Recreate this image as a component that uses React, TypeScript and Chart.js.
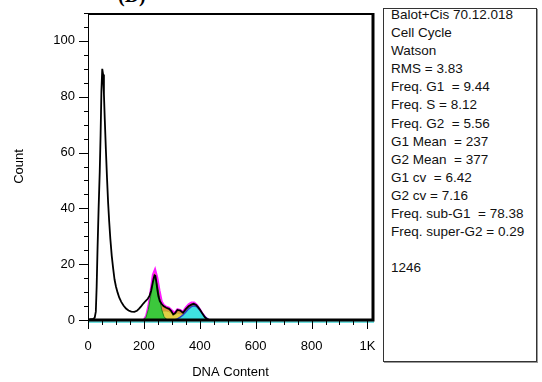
import React, { useEffect, useRef } from "react";
import { Chart, registerables } from "chart.js";

Chart.register(...registerables);

// Measured histogram (black line)
const histX = [0, 10, 18, 24, 28, 31, 34, 38, 42, 45, 48, 51, 54, 57, 60, 64, 68, 72, 76, 80, 85, 90, 95, 100, 106, 112, 119, 127, 136, 145, 155, 166, 175, 183, 190, 198, 206, 214, 220, 226, 231, 235, 238, 241, 244, 248, 252, 257, 263, 270, 280, 290, 298, 305, 312, 320, 330, 340, 350, 360, 370, 378, 386, 394, 402, 410, 418, 426, 434, 445, 1020];
const histY = [0, 0.3, 0.4, 0.8, 3, 12, 25, 40, 53, 66, 82, 90, 88, 81, 72, 61, 51, 42, 35, 29, 23, 18.5, 14.5, 12, 9.8, 8, 6.5, 5.2, 4.1, 3.4, 3.0, 2.9, 3.3, 4.1, 4.9, 5.9, 6.8, 7.6, 8.6, 10.5, 13, 15, 16, 15.8, 14, 11, 8.5, 6.8, 5.8, 5.0, 4.4, 4.0, 3.2, 2.0, 2.5, 3.6, 3.4, 2.6, 3.9, 4.9, 5.5, 5.8, 5.5, 4.6, 3.5, 2.2, 1.0, 0.3, 0.05, 0, 0];

// Watson model components
const fitX = [200, 208, 216, 224, 232, 240, 248, 256, 264, 272, 280, 290, 300, 310, 320, 330, 340, 350, 360, 370, 380, 390, 400, 410, 420, 430];
const g1Y = [0.2, 1.0, 3.8, 8.3, 13.5, 15.3, 12.6, 7.9, 3.6, 1.2, 0.3, 0, 0, 0, 0, 0, 0, 0, 0, 0, 0, 0, 0, 0, 0, 0];
const sY = [0, 0.3, 1.0, 1.8, 2.3, 2.6, 2.8, 3.0, 3.1, 3.2, 3.2, 3.0, 2.4, 1.9, 2.4, 2.3, 1.8, 1.7, 1.5, 1.2, 0.9, 0.5, 0.2, 0, 0, 0];
const g2Y = [0, 0, 0, 0, 0, 0, 0, 0, 0, 0, 0, 0, 0, 0, 0.4, 1.0, 1.8, 2.9, 4.0, 4.8, 5.1, 4.7, 3.6, 2.2, 1.0, 0.2];
const totalY = [0.2, 1.5, 5.0, 10.5, 16.2, 18.2, 15.2, 10.6, 6.6, 5.3, 4.8, 4.4, 3.5, 2.6, 3.9, 3.6, 3.0, 4.5, 5.6, 6.3, 6.3, 5.4, 3.9, 2.3, 1.0, 0.2];

const xTicks = [0, 200, 400, 600, 800, 1000];
const xTickLabels = ["0", "200", "400", "600", "800", "1K"];
const yTicks = [0, 20, 40, 60, 80, 100];
const xMinorStep = 50;
const yMinorStep = 5;

const statsLines = [
  "Balot+Cis 70.12.018",
  "Cell Cycle",
  "Watson",
  "RMS = 3.83",
  "Freq. G1  = 9.44",
  "Freq. S = 8.12",
  "Freq. G2  = 5.56",
  "G1 Mean  = 237",
  "G2 Mean  = 377",
  "G1 cv  = 6.42",
  "G2 cv = 7.16",
  "Freq. sub-G1  = 78.38",
  "Freq. super-G2 = 0.29",
  "",
  "1246",
];

const pts = (xs: number[], ys: number[]) => xs.map((x, i) => ({ x, y: ys[i] }));

const framePlugin = {
  id: "frameTicks",
  afterDraw(chart: any) {
    const { ctx, chartArea: a, scales } = chart;
    const xs = scales.x;
    const ys = scales.y;
    ctx.save();
    // cyan baseline under axis
    ctx.strokeStyle = "#3fd6d6";
    ctx.lineWidth = 1.5;
    ctx.beginPath();
    ctx.moveTo(a.left, a.bottom + 2);
    ctx.lineTo(a.right + 1, a.bottom + 2);
    ctx.stroke();
    ctx.strokeStyle = "#000";
    // x ticks
    ctx.lineWidth = 1;
    for (let v = xs.min; v <= 1000; v += xMinorStep) {
      const px = Math.round(xs.getPixelForValue(v)) + 0.5;
      const major = xTicks.includes(v);
      ctx.beginPath();
      ctx.moveTo(px, a.bottom);
      ctx.lineTo(px, a.bottom + (major ? 9 : 5));
      ctx.stroke();
    }
    // y ticks
    for (let v = 0; v <= ys.max; v += yMinorStep) {
      const py = Math.round(ys.getPixelForValue(v)) + 0.5;
      const major = yTicks.includes(v);
      ctx.beginPath();
      ctx.moveTo(a.left - (major ? 9 : 4), py);
      ctx.lineTo(a.left, py);
      ctx.stroke();
    }
    // frame
    ctx.lineWidth = 1;
    ctx.beginPath();
    ctx.moveTo(a.left + 0.5, a.top);
    ctx.lineTo(a.left + 0.5, a.bottom);
    ctx.stroke();
    ctx.lineWidth = 2;
    ctx.beginPath();
    ctx.moveTo(a.left, a.top + 1);
    ctx.lineTo(a.right, a.top + 1);
    ctx.stroke();
    ctx.lineWidth = 3;
    ctx.beginPath();
    ctx.moveTo(a.right, a.top);
    ctx.lineTo(a.right, a.bottom + 1.5);
    ctx.moveTo(a.left, a.bottom);
    ctx.lineTo(a.right + 1.5, a.bottom);
    ctx.stroke();
    ctx.restore();
  },
};

function HistChart() {
  const ref = useRef<HTMLCanvasElement | null>(null);
  useEffect(() => {
    if (!ref.current) return;
    const font = { family: "'Liberation Sans', Arial, sans-serif", size: 13 };
    const chart = new Chart(ref.current, {
      type: "line",
      data: {
        datasets: [
          {
            label: "Data",
            data: pts(histX, histY),
            borderColor: "#000",
            borderWidth: 1.8,
            pointRadius: 0,
            fill: false,
            order: 0,
          },
          {
            label: "G2",
            data: pts(fitX, g2Y),
            borderColor: "#2a3fc8",
            backgroundColor: "#3fe0e0",
            borderWidth: 1.5,
            pointRadius: 0,
            fill: "origin",
            order: 1,
          },
          {
            label: "G1",
            data: pts(fitX, g1Y),
            borderColor: "#1f8a1f",
            backgroundColor: "#3cc83c",
            borderWidth: 1,
            pointRadius: 0,
            fill: "origin",
            order: 2,
          },
          {
            label: "S",
            data: pts(fitX, sY),
            borderColor: "#c8b030",
            backgroundColor: "#e2cf45",
            borderWidth: 1,
            pointRadius: 0,
            fill: "origin",
            order: 3,
          },
          {
            label: "Fit",
            data: pts(fitX, totalY),
            borderColor: "#ff1aff",
            backgroundColor: "#df9440",
            borderWidth: 2,
            pointRadius: 0,
            fill: "origin",
            order: 4,
          },
        ],
      },
      options: {
        animation: false,
        responsive: false,
        maintainAspectRatio: false,
        events: [],
        layout: { padding: { left: 0, top: 13, right: 7, bottom: 0 } },
        plugins: { legend: { display: false }, tooltip: { enabled: false } },
        scales: {
          x: {
            type: "linear",
            min: 0,
            max: 1020,
            grid: { display: false, drawTicks: false },
            border: { display: false },
            afterFit: (s: any) => {
              s.height = 62;
              s.paddingLeft = 0;
              s.paddingRight = 0;
            },
            afterBuildTicks: (s: any) => {
              s.ticks = xTicks.map((v) => ({ value: v }));
            },
            ticks: {
              autoSkip: false,
              maxRotation: 0,
              padding: 19,
              color: "#000",
              font,
              callback: (_v: any, i: number) => xTickLabels[i],
            },
            title: {
              display: true,
              text: "DNA Content",
              color: "#000",
              font,
              padding: { top: 0, bottom: 2 },
            },
          },
          y: {
            type: "linear",
            min: 0,
            max: 110,
            grid: { display: false, drawTicks: false },
            border: { display: false },
            afterFit: (s: any) => {
              s.width = 88;
              s.paddingTop = 0;
              s.paddingBottom = 0;
            },
            afterBuildTicks: (s: any) => {
              s.ticks = yTicks.map((v) => ({ value: v }));
            },
            ticks: {
              autoSkip: false,
              padding: 13,
              color: "#000",
              font,
            },
            title: {
              display: true,
              text: "Count",
              color: "#000",
              font,
              padding: { top: 12, bottom: 0 },
            },
          },
        },
      },
      plugins: [framePlugin],
    });
    return () => chart.destroy();
  }, []);
  return <canvas ref={ref} width={380} height={382} style={{ position: "absolute", left: 0, top: 0, width: 380, height: 382 }} />;
}

export default function App() {
  return (
    <div style={{ position: "fixed", left: 0, top: 0, width: 542, height: 382, background: "#fff", overflow: "hidden" }}>
      <div
        style={{
          position: "absolute",
          left: 118,
          top: -16,
          fontFamily: "'Liberation Serif', 'Times New Roman', serif",
          fontWeight: "bold",
          fontSize: 20,
          color: "#000",
        }}
      >
        (D)
      </div>
      <HistChart />
      <div
        style={{
          position: "absolute",
          left: 383,
          top: 8,
          width: 154,
          height: 354,
          boxSizing: "border-box",
          border: "1px solid #333",
          boxShadow: "1px 1px 0 #999",
          padding: "0 0 0 7px",
          fontFamily: "'Liberation Sans', Arial, sans-serif",
          fontSize: 13.5,
          lineHeight: "18.1px",
          color: "#111",
          whiteSpace: "pre",
        }}
      >
        <div style={{ marginTop: -3 }}>
          {statsLines.map((t, i) => (
            <div key={i} style={{ height: 18.1 }}>{t}</div>
          ))}
        </div>
      </div>
    </div>
  );
}
